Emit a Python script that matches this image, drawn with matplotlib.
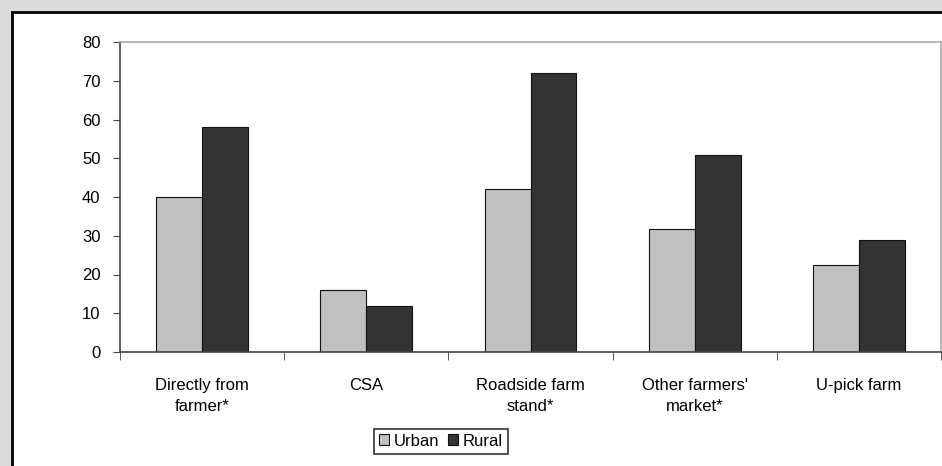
import matplotlib.pyplot as plt
import numpy as np
from matplotlib.patches import Rectangle

categories = ["Directly from\nfarmer*", "CSA", "Roadside farm\nstand*",
              "Other farmers'\nmarket*", "U-pick farm"]
urban = [40, 16, 42, 31.7, 22.4]
rural = [58, 12, 72, 50.8, 29]

plt.rcParams['font.family'] = ['Liberation Sans', 'DejaVu Sans']

W, H = 942, 466
fig = plt.figure(figsize=(W / 100, H / 100), dpi=100)
fig.patch.set_facecolor('#dcdcdc')

# white panel with black border, running off the right and bottom edges
fig.patches.append(Rectangle((12 / W, -0.1), 1.2, 1 - 12 / H + 0.1,
                             transform=fig.transFigure, facecolor='white',
                             edgecolor='black', linewidth=2, zorder=-5))

ax = fig.add_axes([120 / W, 1 - 352 / H, (941 - 120) / W, (352 - 42) / H])
ax.set_zorder(2)
ax.set_facecolor('white')

x = np.arange(len(categories))
w = 0.28
ax.bar(x - w / 2, urban, w, color='#c0c0c0', edgecolor='#111111', linewidth=0.8, label='Urban')
ax.bar(x + w / 2, rural, w, color='#333333', edgecolor='#111111', linewidth=0.8, label='Rural')

ax.set_xlim(-0.5, len(categories) - 0.5)
ax.set_ylim(0, 80)
ax.set_yticks(range(0, 81, 10))

ax.set_xticks(x)
ax.set_xticklabels(categories, fontsize=12, linespacing=1.5)
ax.tick_params(axis='x', which='major', length=0, pad=19)
ax.set_xticks(np.arange(-0.5, len(categories)), minor=True)
ax.tick_params(axis='x', which='minor', length=6, direction='out', color='#444444')
ax.tick_params(axis='y', length=5, direction='out', color='#444444', labelsize=12, pad=9)

for s in ['left', 'bottom']:
    ax.spines[s].set_color('#444444')
    ax.spines[s].set_linewidth(1.2)
for s in ['top', 'right']:
    ax.spines[s].set_color('#aaaaaa')
    ax.spines[s].set_linewidth(1.2)

leg = fig.legend(loc='center', bbox_to_anchor=(441 / W, 1 - 441 / H), ncol=2,
                 fontsize=12, frameon=True, fancybox=False, handlelength=0.6,
                 handleheight=0.6, handletextpad=0.3, columnspacing=0.5,
                 borderpad=0.3, borderaxespad=0)
leg.get_frame().set_edgecolor('black')
leg.get_frame().set_linewidth(1.2)
leg.set_zorder(3)

fig.savefig('out.png', dpi=100, facecolor=fig.get_facecolor())
